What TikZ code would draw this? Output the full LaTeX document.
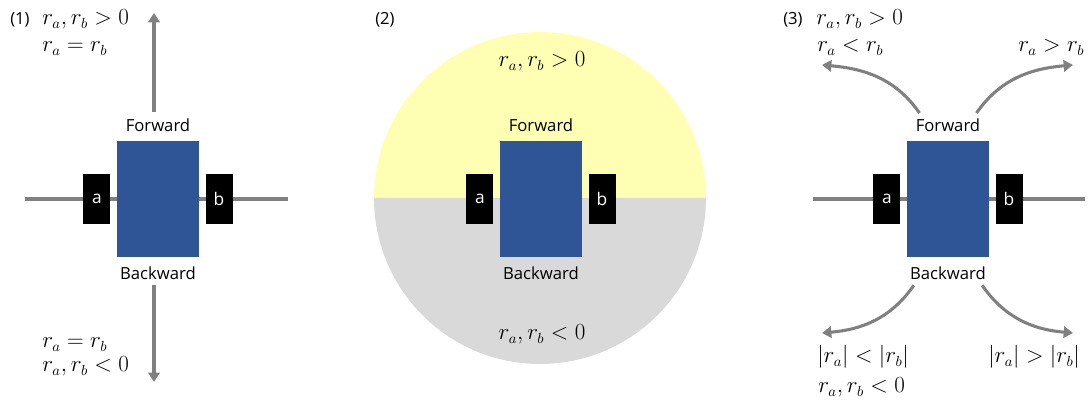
\documentclass[tikz,border=0pt]{standalone}
\usepackage{fontspec}
\setmainfont{Open Sans}
\usetikzlibrary{positioning,arrows.meta}
\definecolor{bodyblue}{HTML}{2F5597}
\definecolor{arrowgray}{HTML}{808080}
\definecolor{halfyellow}{HTML}{FFFFB3}
\definecolor{halfgray}{HTML}{D9D9D9}
\begin{document}
\begin{tikzpicture}[x=0.75pt,y=0.75pt,node distance=4.5pt,
  body/.style={fill=bodyblue,minimum width=61.5pt,minimum height=87pt,inner sep=0pt},
  wheel/.style={fill=black,text=white,minimum width=20.25pt,minimum height=37.5pt,inner sep=0pt,font=\fontsize{13}{15}\selectfont},
  dirlbl/.style={inner sep=0pt,font=\fontsize{12.5}{15}\selectfont},
  panel/.style={inner sep=0pt,anchor=base west,font=\fontsize{12.5}{15}\selectfont},
  cond/.style={inner sep=0pt,anchor=base west,font=\fontsize{16}{19}\selectfont},
  axle/.style={draw=arrowgray,line width=2.3pt},
  arr/.style={draw=arrowgray,line width=2.3pt,-{Triangle[width=8.5pt,length=7pt]}}]
\useasboundingbox (0,0) rectangle (1090,402);

% (1) straight motion
\coordinate (ax1l) at (25,203);
\coordinate (ax1r) at (288,203);
\draw[axle] (ax1l) -- (ax1r);
\node[body] (body1) at (158,203) {};
\node[wheel,left=of body1] (wa1) {a};
\node[wheel,right=of body1] (wb1) {b};
\node[dirlbl,above=6.75pt of body1] (fwd1) {Forward};
\node[dirlbl,below=7pt of body1] (bwd1) {Backward};
\coordinate (up1) at (154,389);
\coordinate (dn1) at (154,20);
\draw[arr,shorten <=5pt] (fwd1.north -| up1) -- (up1);
\draw[arr,shorten <=4pt] (bwd1.south -| dn1) -- (dn1);
\node[panel] (p1) at (10,377) {(1)};
\node[cond] (c1a) at (42,377) {$r_a, r_b > 0$};
\node[cond] (c1b) at (42,350) {$r_a = r_b$};
\node[cond] (c1c) at (42,54) {$r_a = r_b$};
\node[cond] (c1d) at (42,30) {$r_a, r_b < 0$};

% (2) sign regions
\fill[halfyellow] (374,204) arc (180:0:166) -- cycle;
\fill[halfgray] (374,204) arc (180:360:166) -- cycle;
\node[body] (body2) at (541,203) {};
\node[wheel,left=of body2] (wa2) {a};
\node[wheel,right=of body2] (wb2) {b};
\node[dirlbl,above=6.75pt of body2] (fwd2) {Forward};
\node[dirlbl,below=7pt of body2] (bwd2) {Backward};
\node[panel] (p2) at (375,377) {(2)};
\node[cond,anchor=base] (c2a) at (542,335) {$r_a, r_b > 0$};
\node[cond,anchor=base] (c2b) at (542,62) {$r_a, r_b < 0$};

% (3) turning
\coordinate (ax3l) at (813,203);
\coordinate (ax3r) at (1085,203);
\draw[axle] (ax3l) -- (ax3r);
\node[body] (body3) at (948,203) {};
\node[wheel,left=of body3] (wa3) {a};
\node[wheel,right=of body3] (wb3) {b};
\node[dirlbl,above=6.75pt of body3] (fwd3) {Forward};
\node[dirlbl,below=7pt of body3] (bwd3) {Backward};
\coordinate (ul3) at (822,337);
\coordinate (ur3) at (1073,337);
\coordinate (ll3) at (822,69);
\coordinate (lr3) at (1073,69);
\draw[arr] ([xshift=3pt,yshift=4pt]fwd3.north west) to[out=125,in=-5] (ul3);
\draw[arr] ([xshift=-3pt,yshift=4pt]fwd3.north east) to[out=55,in=185] (ur3);
\draw[arr] ([xshift=3pt,yshift=-4pt]bwd3.south west) to[out=-125,in=5] (ll3);
\draw[arr] ([xshift=-3pt,yshift=-4pt]bwd3.south east) to[out=-55,in=175] (lr3);
\node[panel] (p3) at (783,377) {(3)};
\node[cond] (c3a) at (816,377) {$r_a, r_b > 0$};
\node[cond] (c3b) at (817,350) {$r_a < r_b$};
\node[cond] (c3c) at (1018,350) {$r_a > r_b$};
\node[cond] (c3d) at (817,39) {$|r_a| < |r_b|$};
\node[cond] (c3e) at (988,39) {$|r_a| > |r_b|$};
\node[cond] (c3f) at (818,9) {$r_a, r_b < 0$};
\end{tikzpicture}
\end{document}
